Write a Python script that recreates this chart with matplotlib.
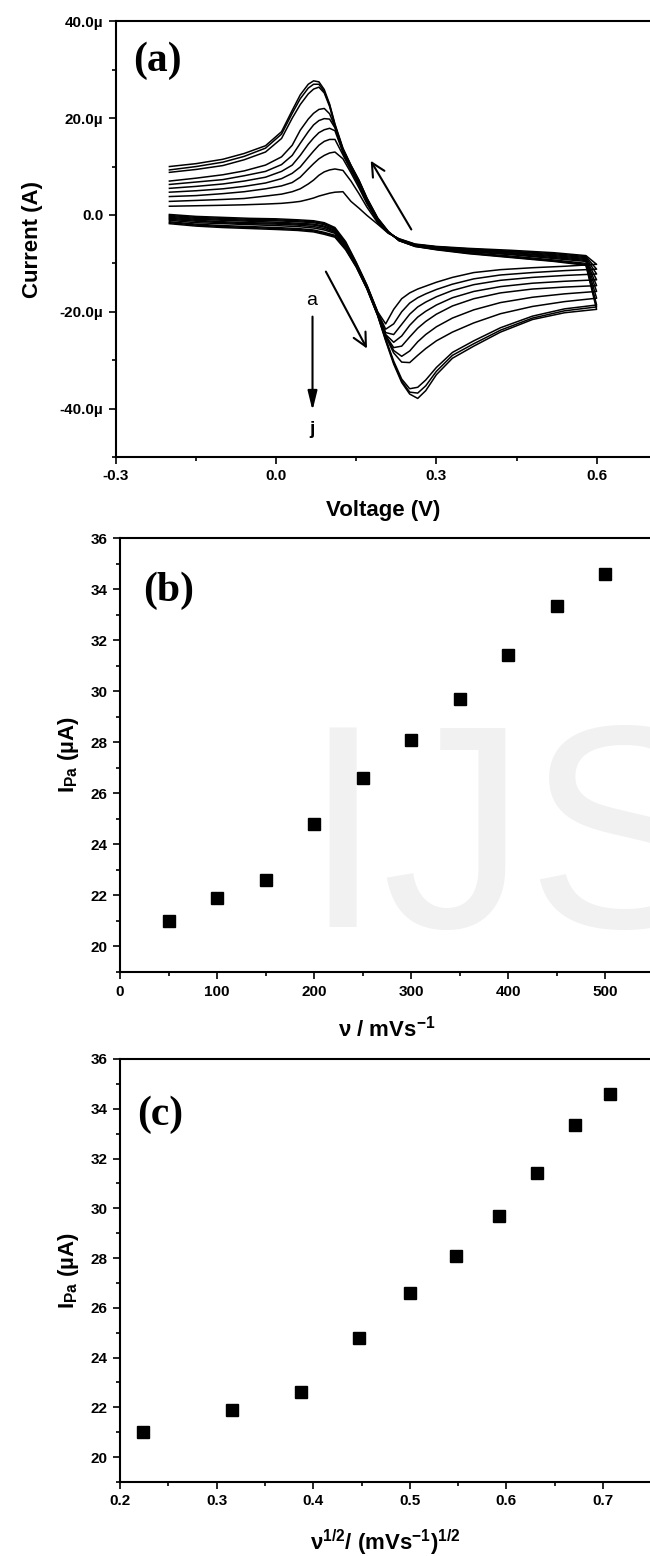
import matplotlib
matplotlib.use("Agg")
import matplotlib.pyplot as plt
from matplotlib.ticker import MultipleLocator, FuncFormatter

plt.rcParams["font.family"] = ["Liberation Sans", "DejaVu Sans"]
plt.rcParams["font.weight"] = "bold"
plt.rcParams["axes.labelweight"] = "bold"
plt.rcParams["mathtext.fontset"] = "custom"
plt.rcParams["mathtext.rm"] = "Liberation Sans:bold"
plt.rcParams["mathtext.bf"] = "Liberation Sans:bold"
plt.rcParams["mathtext.it"] = "Liberation Sans:bold"
plt.rcParams["mathtext.default"] = "bf"

# ---- (a) cyclic voltammograms, current in microamps ----
# forward sweep potentials (V), -0.2 -> 0.6
V_FWD = [-0.20, -0.15, -0.10, -0.05, 0.00, 0.04, 0.07, 0.09, 0.11, 0.13, 0.15,
         0.17, 0.19, 0.205, 0.22, 0.235, 0.25, 0.265, 0.28, 0.30, 0.33, 0.37,
         0.42, 0.48, 0.54, 0.60]
# reverse sweep potentials (V), 0.6 -> -0.2
V_REV = [0.60, 0.58, 0.52, 0.44, 0.36, 0.30, 0.26, 0.23, 0.21, 0.19, 0.17,
         0.155, 0.14, 0.125, 0.11, 0.10, 0.09, 0.08, 0.07, 0.06, 0.045, 0.03,
         0.01, -0.02, -0.06, -0.10, -0.15, -0.20]

cv_a_fwd = [0.1, -0.3, -0.5, -0.7, -0.8, -1.0, -1.2, -1.6, -2.6, -5.5, -9.8, -14.5, -20.0,
            -22.5, -19.5, -17.3, -16.1, -15.3, -14.7, -13.9, -12.9, -11.9, -11.3, -10.9, -10.6, -10.2]
cv_b_fwd = [-0.1, -0.5, -0.7, -0.9, -1.0, -1.2, -1.4, -1.8, -2.8, -5.7, -10.0, -14.6, -20.1,
            -23.6, -22.5, -20.0, -18.2, -17.1, -16.3, -15.4, -14.3, -13.2, -12.4, -11.9, -11.5, -11.2]
cv_c_fwd = [-0.3, -0.7, -0.9, -1.1, -1.2, -1.4, -1.6, -2.0, -3.0, -5.9, -10.1, -14.7, -20.2,
            -24.3, -24.7, -22.6, -20.5, -19.0, -18.0, -16.9, -15.6, -14.4, -13.5, -12.9, -12.5, -12.2]
cv_d_fwd = [-0.5, -0.9, -1.1, -1.3, -1.5, -1.7, -1.9, -2.3, -3.2, -6.1, -10.2, -14.8, -20.3,
            -24.7, -26.3, -25.0, -22.8, -21.1, -19.9, -18.6, -17.1, -15.8, -14.8, -14.1, -13.7, -13.4]
cv_e_fwd = [-0.7, -1.1, -1.4, -1.6, -1.7, -1.9, -2.1, -2.5, -3.4, -6.3, -10.3, -14.9, -20.4,
            -24.9, -27.4, -27.1, -25.2, -23.4, -22.0, -20.5, -18.8, -17.3, -16.1, -15.3, -14.9, -14.6]
cv_f_fwd = [-0.9, -1.3, -1.6, -1.8, -1.9, -2.1, -2.4, -2.8, -3.6, -6.5, -10.4, -15.0, -20.5,
            -25.0, -28.0, -29.2, -28.1, -26.2, -24.7, -23.1, -21.3, -19.6, -18.1, -17.0, -16.3, -15.8]
cv_g_fwd = [-1.1, -1.6, -1.8, -2.0, -2.2, -2.4, -2.7, -3.1, -3.8, -6.7, -10.5, -15.1, -20.6,
            -25.1, -28.5, -30.4, -30.5, -29.0, -27.6, -26.0, -24.2, -22.3, -20.4, -18.9, -17.9, -17.2]
cv_h_fwd = [-1.4, -1.9, -2.2, -2.4, -2.6, -2.8, -3.1, -3.6, -4.2, -6.9, -10.6, -15.2, -20.7,
            -25.6, -30.2, -33.9, -35.9, -35.6, -34.1, -31.5, -28.4, -26.0, -23.3, -20.9, -19.4, -18.6]
cv_i_fwd = [-1.6, -2.1, -2.4, -2.6, -2.8, -3.0, -3.3, -3.8, -4.4, -7.0, -10.7, -15.2, -20.7,
            -25.8, -30.5, -34.3, -36.6, -36.8, -35.3, -32.3, -29.0, -26.6, -23.8, -21.3, -19.8, -19.0]
cv_j_fwd = [-1.8, -2.3, -2.6, -2.8, -3.0, -3.2, -3.5, -4.0, -4.6, -7.2, -10.8, -15.3, -20.8,
            -26.0, -30.8, -34.6, -37.0, -37.9, -36.3, -33.0, -29.6, -27.1, -24.2, -21.6, -20.2, -19.5]

cv_a_rev = [-10.2, -8.4, -7.8, -7.3, -6.9, -6.5, -6.0, -4.9, -3.8, -1.9, -0.1, 1.4, 2.8,
            4.8, 4.7, 4.5, 4.2, 3.9, 3.5, 3.2, 2.8, 2.6, 2.4, 2.25, 2.1, 2.0, 1.9, 1.8]
cv_b_rev = [-11.2, -8.6, -8.0, -7.5, -7.0, -6.6, -6.1, -5.0, -3.7, -1.6, 1.6, 4.4, 7.0,
            9.2, 9.5, 9.3, 8.9, 8.2, 7.2, 6.4, 5.4, 4.8, 4.3, 3.9, 3.4, 3.2, 3.0, 2.8]
cv_c_rev = [-12.2, -8.8, -8.2, -7.6, -7.1, -6.6, -6.1, -5.0, -3.7, -1.4, 2.3, 5.6, 8.7,
            11.6, 13.0, 12.8, 12.3, 11.6, 10.6, 9.5, 7.8, 6.7, 6.0, 5.4, 4.8, 4.4, 4.0, 3.8]
cv_d_rev = [-13.4, -9.0, -8.4, -7.8, -7.2, -6.7, -6.2, -5.1, -3.6, -1.2, 2.6, 6.1, 9.2,
            12.4, 15.6, 15.6, 15.2, 14.4, 13.2, 11.9, 9.9, 8.6, 7.5, 6.6, 5.9, 5.4, 5.0, 4.7]
cv_e_rev = [-14.6, -9.2, -8.6, -7.9, -7.3, -6.8, -6.3, -5.1, -3.6, -1.1, 2.8, 6.4, 9.5,
            12.9, 17.4, 17.9, 17.6, 17.0, 15.9, 14.6, 12.3, 10.3, 9.0, 7.8, 7.0, 6.4, 5.9, 5.5]
cv_f_rev = [-15.8, -9.4, -8.8, -8.1, -7.5, -6.9, -6.3, -5.2, -3.6, -1.0, 3.0, 6.6, 9.7,
            13.1, 18.0, 19.8, 19.9, 19.5, 18.6, 17.2, 14.8, 12.3, 10.4, 9.0, 8.1, 7.3, 6.8, 6.3]
cv_g_rev = [-17.2, -9.6, -9.0, -8.2, -7.6, -6.9, -6.4, -5.2, -3.5, -0.9, 3.2, 6.8, 9.9,
            13.3, 18.2, 20.9, 22.0, 21.8, 21.0, 19.8, 17.5, 14.4, 12.0, 10.3, 9.1, 8.3, 7.6, 7.0]
cv_h_rev = [-18.6, -10.0, -9.3, -8.5, -7.8, -7.1, -6.4, -5.3, -3.5, -0.8, 3.3, 7.0, 10.1,
            13.5, 18.4, 22.4, 25.2, 26.4, 26.0, 25.0, 22.8, 20.0, 15.8, 13.0, 11.4, 10.2, 9.4, 8.8]
cv_i_rev = [-19.0, -10.2, -9.5, -8.7, -7.9, -7.1, -6.5, -5.3, -3.5, -0.7, 3.4, 7.1, 10.2,
            13.6, 18.6, 22.7, 25.5, 27.0, 27.0, 26.2, 24.0, 21.0, 16.7, 13.8, 12.1, 10.9, 10.0, 9.3]
cv_j_rev = [-19.5, -10.4, -9.6, -8.8, -8.0, -7.2, -6.5, -5.3, -3.4, -0.6, 3.5, 7.2, 10.3,
            13.8, 18.8, 22.9, 25.9, 27.5, 27.7, 27.0, 24.8, 21.6, 17.2, 14.3, 12.7, 11.5, 10.6, 10.0]

cv_curves = [
    (cv_a_fwd, cv_a_rev), (cv_b_fwd, cv_b_rev), (cv_c_fwd, cv_c_rev),
    (cv_d_fwd, cv_d_rev), (cv_e_fwd, cv_e_rev), (cv_f_fwd, cv_f_rev),
    (cv_g_fwd, cv_g_rev), (cv_h_fwd, cv_h_rev), (cv_i_fwd, cv_i_rev),
    (cv_j_fwd, cv_j_rev),
]

# ---- (b), (c) anodic peak current vs scan rate ----
scan_rate = [50, 100, 150, 200, 250, 300, 350, 400, 450, 500]          # mV/s
sqrt_scan_rate = [0.224, 0.316, 0.387, 0.447, 0.500, 0.548, 0.592, 0.632, 0.671, 0.707]
ipa = [21.0, 21.9, 22.6, 24.8, 26.6, 28.1, 29.7, 31.4, 33.35, 34.6]   # uA


def style_axes(ax):
    ax.spines["right"].set_visible(False)
    for s in ("left", "bottom", "top"):
        ax.spines[s].set_linewidth(1.5)
    ax.tick_params(which="both", direction="out", top=False, right=False,
                   labelsize=11, width=1.2, pad=4)
    ax.tick_params(which="major", length=5)
    ax.tick_params(which="minor", length=3)


fig = plt.figure(figsize=(6.5, 15.56), dpi=100)

# panel (a)
ax_a = fig.add_axes([116 / 650, 0.7063, 534 / 650, 0.2800])
for fwd, rev in cv_curves:
    ax_a.plot(V_FWD + V_REV, fwd + rev, color="black", lw=1.1)
ax_a.set_xlim(-0.3, 0.7)
ax_a.set_ylim(-50, 40)
ax_a.xaxis.set_major_locator(MultipleLocator(0.3))
ax_a.xaxis.set_minor_locator(MultipleLocator(0.15))
ax_a.yaxis.set_major_locator(MultipleLocator(20))
ax_a.yaxis.set_minor_locator(MultipleLocator(10))
ax_a.xaxis.set_major_formatter(FuncFormatter(lambda v, p: "{:.1f}".format(v)))
ax_a.yaxis.set_major_formatter(
    FuncFormatter(lambda v, p: "0.0" if abs(v) < 1e-9 else "{:.1f}µ".format(v)))
style_axes(ax_a)
ax_a.set_xlabel("Voltage (V)", fontsize=16, labelpad=12)
ax_a.set_ylabel("Current (A)", fontsize=16, labelpad=12)
ax_a.text(0.033, 0.909, "(a)", transform=ax_a.transAxes, family="Liberation Serif",
          fontsize=30, fontweight="bold", ha="left", va="center")
arrow_open = dict(arrowstyle="->,head_length=0.8,head_width=0.4", lw=1.5,
                  color="black", mutation_scale=12, shrinkA=0, shrinkB=0)
ax_a.annotate("", xy=(0.177, 11.2), xytext=(0.253, -3.0), arrowprops=arrow_open)
ax_a.annotate("", xy=(0.170, -27.6), xytext=(0.093, -11.7), arrowprops=arrow_open)
ax_a.annotate("", xy=(0.068, -40.4), xytext=(0.068, -21.0),
              arrowprops=dict(arrowstyle="-|>,head_length=0.9,head_width=0.22", lw=1.5,
                              color="black", mutation_scale=13, shrinkA=0, shrinkB=0))
ax_a.text(0.067, -17.6, "a", fontsize=14, fontweight="normal", ha="center", va="center")
ax_a.text(0.067, -44.3, "j", fontsize=14, fontweight="bold", ha="center", va="center")

# panel (b)
ax_b = fig.add_axes([120 / 650, 0.37532, 533.5 / 650, 0.27892])
ax_b.text(302 / 650, (1556 - 927) / 1556, "IJS", transform=fig.transFigure,
          fontsize=208, fontweight="normal", color="#f1f1f1", ha="left",
          va="baseline", zorder=0.5, clip_on=False)
ax_b.plot(scan_rate, ipa, linestyle="none", marker="s", ms=8, color="black", zorder=3)
ax_b.set_xlim(0, 550)
ax_b.set_ylim(19, 36)
ax_b.xaxis.set_major_locator(MultipleLocator(100))
ax_b.xaxis.set_minor_locator(MultipleLocator(50))
ax_b.yaxis.set_major_locator(MultipleLocator(2))
ax_b.yaxis.set_minor_locator(MultipleLocator(1))
style_axes(ax_b)
ax_b.set_xlabel(r"ν / mVs$^{\mathbf{-1}}$", fontsize=16, labelpad=12)
ax_b.set_ylabel(r"I$_{\mathbf{Pa}}$ (µA)", fontsize=16, labelpad=7)
ax_b.text(0.043, 0.879, "(b)", transform=ax_b.transAxes, family="Liberation Serif",
          fontsize=30, fontweight="bold", ha="left", va="center")

# panel (c)
ax_c = fig.add_axes([120 / 650, 0.04756, 531.3 / 650, 0.27185])
ax_c.plot(sqrt_scan_rate, ipa, linestyle="none", marker="s", ms=8, color="black", zorder=3)
ax_c.set_xlim(0.2, 0.75)
ax_c.set_ylim(19, 36)
ax_c.xaxis.set_major_locator(MultipleLocator(0.1))
ax_c.xaxis.set_minor_locator(MultipleLocator(0.05))
ax_c.yaxis.set_major_locator(MultipleLocator(2))
ax_c.yaxis.set_minor_locator(MultipleLocator(1))
ax_c.xaxis.set_major_formatter(FuncFormatter(lambda v, p: "{:.1f}".format(v)))
style_axes(ax_c)
ax_c.set_xlabel(r"ν$^{\mathbf{1/2}}$/ (mVs$^{\mathbf{-1}}$)$^{\mathbf{1/2}}$",
                fontsize=16, labelpad=14)
ax_c.set_ylabel(r"I$_{\mathbf{Pa}}$ (µA)", fontsize=16, labelpad=7)
ax_c.text(0.032, 0.869, "(c)", transform=ax_c.transAxes, family="Liberation Serif",
          fontsize=30, fontweight="bold", ha="left", va="center")

fig.savefig("out.png", dpi=100)
